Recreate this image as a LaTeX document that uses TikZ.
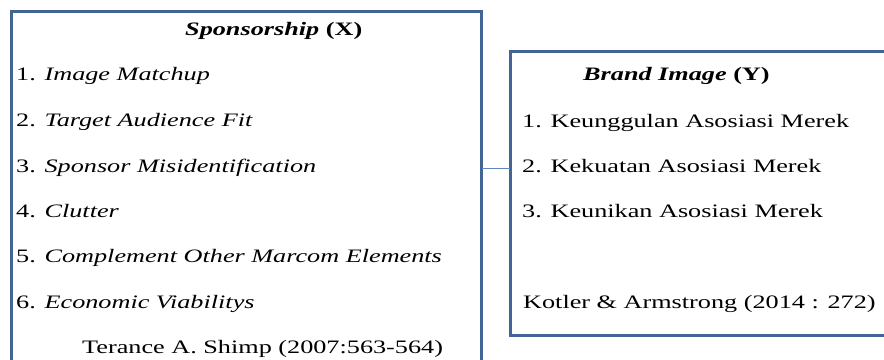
\documentclass[tikz,border=0pt]{standalone}
\usepackage{fontspec}
\setmainfont{Liberation Serif}[FakeStretch=1.38]
\usepackage{tikz}
\usetikzlibrary{calc}
\usetikzlibrary{positioning}
\definecolor{frameblue}{RGB}{66, 101, 150}
\definecolor{linkblue}{RGB}{95, 135, 190}
\tikzset{
  varbox/.style={draw=frameblue, line width=3pt, outer sep=0pt, inner sep=0pt, anchor=north west},
  itemtext/.style={anchor=base west, inner sep=0pt, font=\fontsize{19}{22}\selectfont},
  link/.style={draw=linkblue, line width=1pt}
}

\begin{document}
\begin{tikzpicture}[x=1pt, y=-1pt]
            \clip (0,0) rectangle (884,359);
            \fill[white] (0,0) rectangle (884,359);
            % the two variable boxes
            \node[varbox, minimum width=470.7pt, minimum height=400pt]  (sponsor) at ( 11.0, 11.5) {};
            \node[varbox, minimum width=440.0pt, minimum height=284pt]  (brand)   at (510.0, 51.0) {};
            % connector
            \coordinate (linky) at (0,168);
            \draw[link] (sponsor.east |- linky) -- (brand.west |- linky);
            % Sponsorship (X)
            \node[itemtext] (xtitle) at (185, 35) {\textbf{\textit{Sponsorship}} \textbf{(X)}};
            \foreach \n/\txt/\yy in {1/Image Matchup/80, 2/Target Audience Fit/126, 3/Sponsor Misidentification/172,
                                     4/Clutter/217, 5/Complement Other Marcom Elements/262, 6/Economic Viabilitys/308}
              \node[itemtext] (x\n) at (16, \yy) {\n. \textit{\txt}};
            \node[itemtext] (xsrc) at ( 82,353) {Terance A. Shimp (2007:563-564)};
            % Brand Image (Y)
            \node[itemtext] (ytitle) at (583, 80) {\textbf{\textit{Brand Image}} \textbf{(Y)}};
            \foreach \n/\txt/\yy in {1/Keunggulan Asosiasi Merek/127, 2/Kekuatan Asosiasi Merek/172, 3/Keunikan Asosiasi Merek/217}
              \node[itemtext] (y\n) at (522, \yy) {\n. \txt};
            \node[itemtext] (ysrc) at (523,308) {Kotler \& Armstrong (2014 : 272)};
        \end{tikzpicture}
\end{document}
